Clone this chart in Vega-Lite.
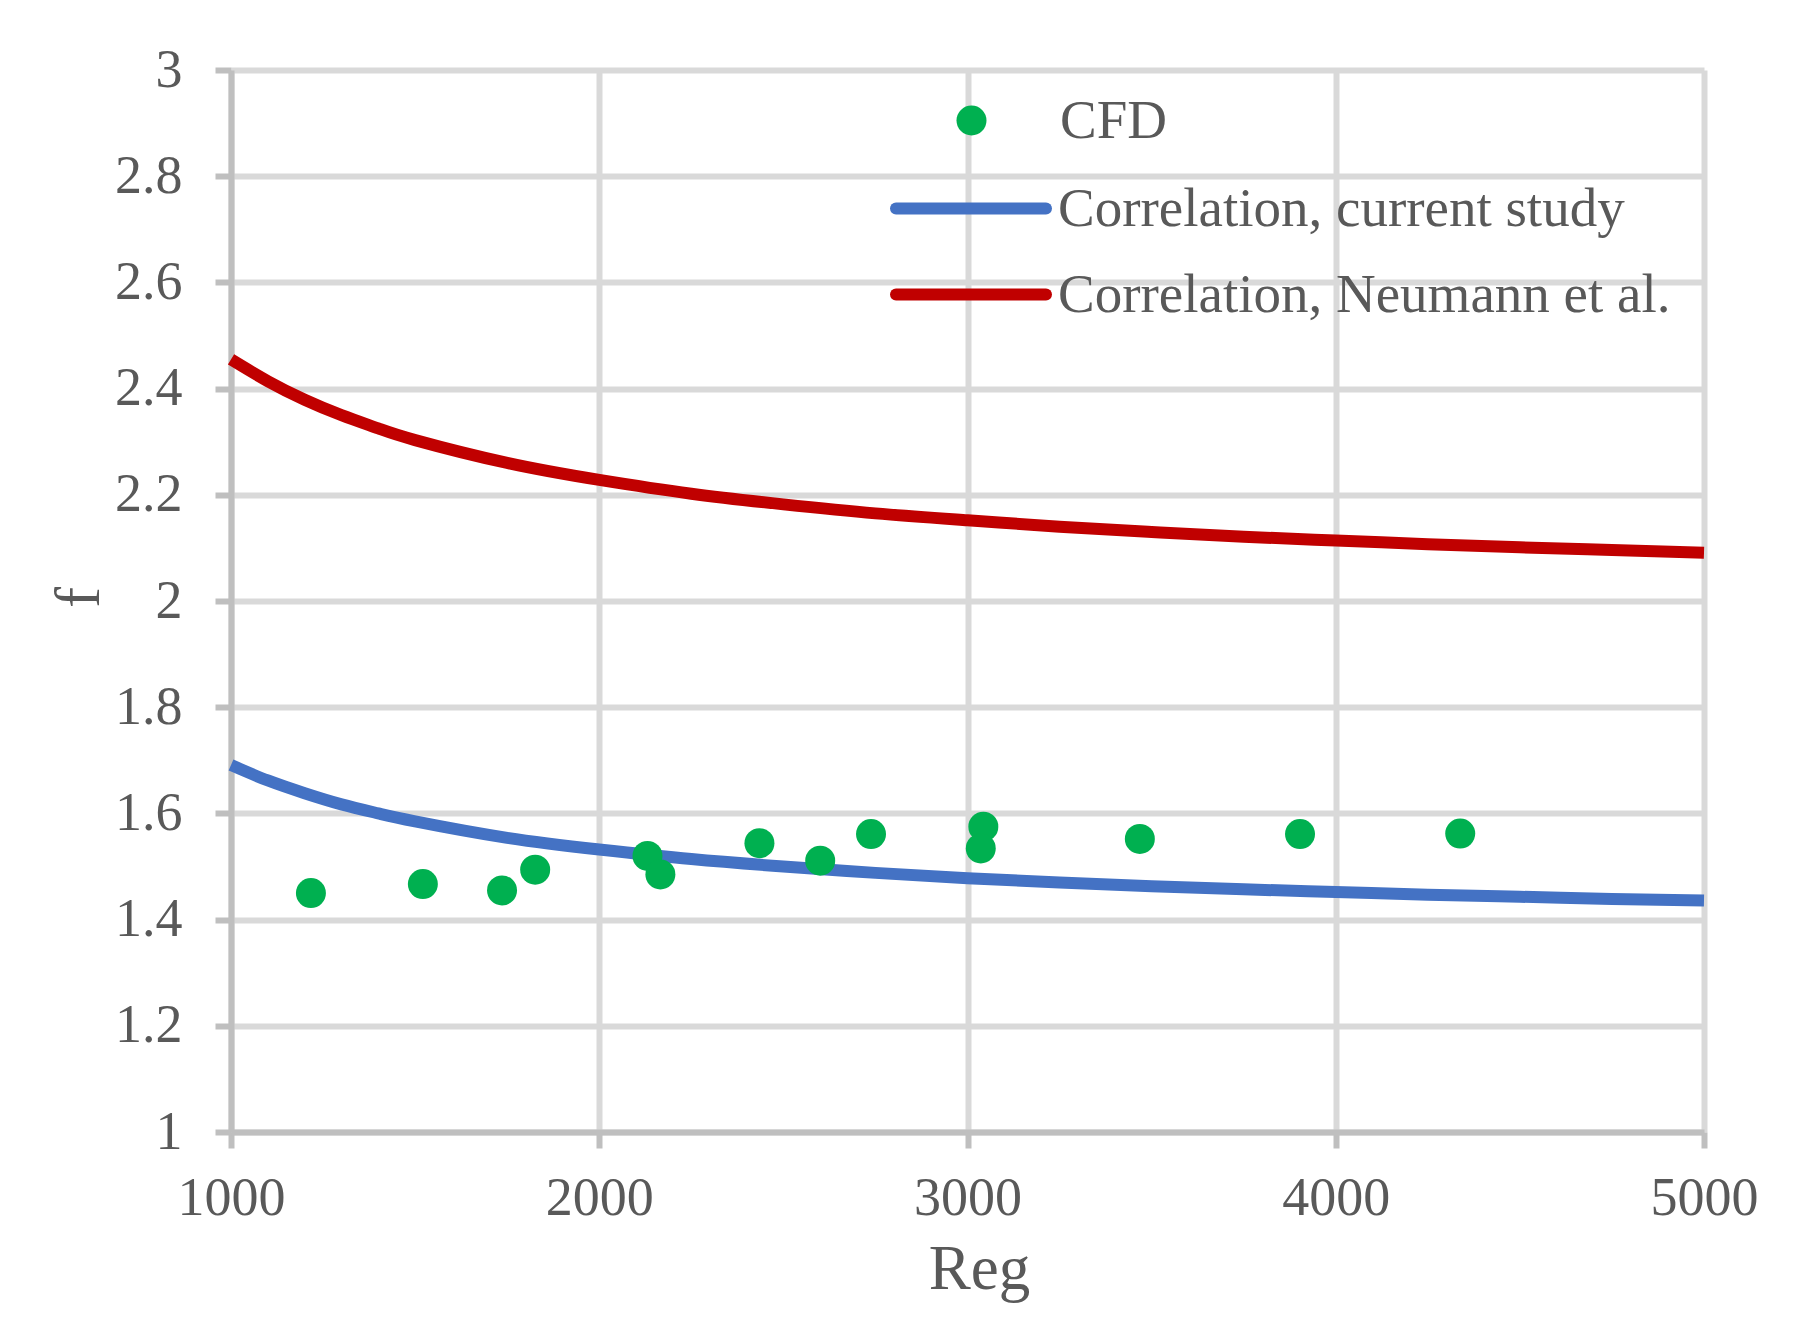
{
  "$schema": "https://vega.github.io/schema/vega-lite/v6.json",
  "autosize": "none",
  "width": 1473,
  "height": 1062,
  "padding": {"left": 231, "top": 70, "right": 101, "bottom": 209},
  "background": "white",
  "config": {
    "font": "Liberation Serif",
    "view": {"stroke": null},
    "axis": {
      "domainColor": "#bfbfbf",
      "domainWidth": 6,
      "tickColor": "#bfbfbf",
      "tickWidth": 6,
      "tickSize": 16,
      "gridColor": "#d9d9d9",
      "gridWidth": 6,
      "labelColor": "#595959",
      "labelFont": "Liberation Serif",
      "labelFontSize": 54,
      "labelFlush": false,
      "labelOverlap": false,
      "titleColor": "#595959",
      "titleFont": "Liberation Serif",
      "titleFontSize": 63,
      "titleFontWeight": "normal"
    },
    "legend": {
      "labelColor": "#595959",
      "labelFont": "Liberation Serif",
      "labelFontSize": 55,
      "labelLimit": 0,
      "padding": 0,
      "title": null
    }
  },
  "datasets": {
    "curves": [
      {"series": "Correlation, current study", "Reg": 1000, "f": 1.691},
      {"series": "Correlation, current study", "Reg": 1100, "f": 1.662},
      {"series": "Correlation, current study", "Reg": 1200, "f": 1.638},
      {"series": "Correlation, current study", "Reg": 1300, "f": 1.617},
      {"series": "Correlation, current study", "Reg": 1400, "f": 1.600},
      {"series": "Correlation, current study", "Reg": 1500, "f": 1.585},
      {"series": "Correlation, current study", "Reg": 1750, "f": 1.554},
      {"series": "Correlation, current study", "Reg": 2000, "f": 1.532},
      {"series": "Correlation, current study", "Reg": 2250, "f": 1.514},
      {"series": "Correlation, current study", "Reg": 2500, "f": 1.500},
      {"series": "Correlation, current study", "Reg": 2750, "f": 1.488},
      {"series": "Correlation, current study", "Reg": 3000, "f": 1.478},
      {"series": "Correlation, current study", "Reg": 3250, "f": 1.470},
      {"series": "Correlation, current study", "Reg": 3500, "f": 1.463},
      {"series": "Correlation, current study", "Reg": 3750, "f": 1.457},
      {"series": "Correlation, current study", "Reg": 4000, "f": 1.452},
      {"series": "Correlation, current study", "Reg": 4250, "f": 1.447},
      {"series": "Correlation, current study", "Reg": 4500, "f": 1.443},
      {"series": "Correlation, current study", "Reg": 4750, "f": 1.439},
      {"series": "Correlation, current study", "Reg": 5000, "f": 1.436},
      {"series": "Correlation, Neumann et al.", "Reg": 1000, "f": 2.455},
      {"series": "Correlation, Neumann et al.", "Reg": 1100, "f": 2.414},
      {"series": "Correlation, Neumann et al.", "Reg": 1200, "f": 2.379},
      {"series": "Correlation, Neumann et al.", "Reg": 1300, "f": 2.350},
      {"series": "Correlation, Neumann et al.", "Reg": 1400, "f": 2.325},
      {"series": "Correlation, Neumann et al.", "Reg": 1500, "f": 2.303},
      {"series": "Correlation, Neumann et al.", "Reg": 1750, "f": 2.260},
      {"series": "Correlation, Neumann et al.", "Reg": 2000, "f": 2.228},
      {"series": "Correlation, Neumann et al.", "Reg": 2250, "f": 2.202},
      {"series": "Correlation, Neumann et al.", "Reg": 2500, "f": 2.182},
      {"series": "Correlation, Neumann et al.", "Reg": 2750, "f": 2.165},
      {"series": "Correlation, Neumann et al.", "Reg": 3000, "f": 2.152},
      {"series": "Correlation, Neumann et al.", "Reg": 3250, "f": 2.140},
      {"series": "Correlation, Neumann et al.", "Reg": 3500, "f": 2.130},
      {"series": "Correlation, Neumann et al.", "Reg": 3750, "f": 2.121},
      {"series": "Correlation, Neumann et al.", "Reg": 4000, "f": 2.114},
      {"series": "Correlation, Neumann et al.", "Reg": 4250, "f": 2.107},
      {"series": "Correlation, Neumann et al.", "Reg": 4500, "f": 2.101},
      {"series": "Correlation, Neumann et al.", "Reg": 4750, "f": 2.096},
      {"series": "Correlation, Neumann et al.", "Reg": 5000, "f": 2.091}
    ],
    "cfd": [
      {"series": "CFD", "Reg": 1217, "f": 1.450},
      {"series": "CFD", "Reg": 1521, "f": 1.467},
      {"series": "CFD", "Reg": 1736, "f": 1.455},
      {"series": "CFD", "Reg": 1826, "f": 1.494},
      {"series": "CFD", "Reg": 2131, "f": 1.520},
      {"series": "CFD", "Reg": 2166, "f": 1.485},
      {"series": "CFD", "Reg": 2435, "f": 1.544},
      {"series": "CFD", "Reg": 2600, "f": 1.511},
      {"series": "CFD", "Reg": 2738, "f": 1.561},
      {"series": "CFD", "Reg": 3043, "f": 1.575},
      {"series": "CFD", "Reg": 3036, "f": 1.534},
      {"series": "CFD", "Reg": 3468, "f": 1.552},
      {"series": "CFD", "Reg": 3903, "f": 1.561},
      {"series": "CFD", "Reg": 4338, "f": 1.562}
    ]
  },
  "encoding": {
    "x": {
      "field": "Reg",
      "type": "quantitative",
      "title": "Reg",
      "scale": {"domain": [1000, 5000], "nice": false, "zero": false},
      "axis": {
        "values": [1000, 2000, 3000, 4000, 5000],
        "format": "d",
        "labelPadding": 23,
        "titleBaseline": "alphabetic",
        "titleX": 748,
        "titleY": 156
      }
    },
    "y": {
      "field": "f",
      "type": "quantitative",
      "title": "f",
      "scale": {"domain": [1, 3], "nice": false, "zero": false},
      "axis": {
        "values": [1, 1.2, 1.4, 1.6, 1.8, 2, 2.2, 2.4, 2.6, 2.8, 3],
        "format": ".1~f",
        "labelPadding": 33,
        "titleBaseline": "alphabetic",
        "titleAngle": -90,
        "titleX": -133,
        "titleY": 527
      }
    }
  },
  "layer": [
    {
      "data": {"name": "curves"},
      "mark": {"type": "line", "strokeWidth": 12, "interpolate": "natural", "strokeCap": "butt"},
      "encoding": {
        "stroke": {
          "field": "series",
          "type": "nominal",
          "scale": {
            "domain": ["Correlation, current study", "Correlation, Neumann et al."],
            "range": ["#4472c4", "#c00000"]
          },
          "legend": {
            "orient": "none",
            "legendX": 659,
            "legendY": 111,
            "symbolType": "stroke",
            "symbolSize": 22500,
            "symbolStrokeWidth": 12,
            "labelOffset": 6,
            "clipHeight": 55,
            "rowPadding": 30,
            "encode": {"symbols": {"update": {"strokeCap": {"value": "round"}}}}
          }
        }
      }
    },
    {
      "data": {"name": "cfd"},
      "mark": {"type": "circle", "size": 900, "opacity": 1},
      "encoding": {
        "fill": {
          "field": "series",
          "type": "nominal",
          "scale": {"domain": ["CFD"], "range": ["#00b050"]},
          "legend": {
            "orient": "none",
            "legendX": 713,
            "legendY": 23,
            "symbolType": "circle",
            "symbolSize": 900,
            "symbolStrokeWidth": 0,
            "symbolOpacity": 1,
            "labelOffset": 61
          }
        }
      }
    }
  ]
}
